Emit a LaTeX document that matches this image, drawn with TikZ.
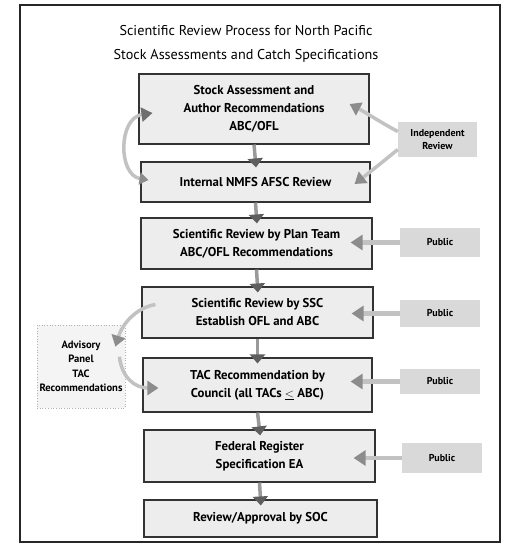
\documentclass[tikz,border=0pt]{standalone}
\usepackage{fontspec}
\setmainfont{PT Sans}
\usetikzlibrary{arrows.meta,calc}
\definecolor{boxfill}{HTML}{EDEDED}
\definecolor{sidefill}{HTML}{D9D9D9}
\definecolor{shaft}{HTML}{9A9A9A}
\definecolor{headc}{HTML}{5E5E5E}
\definecolor{lshaft}{HTML}{C2C2C2}
\definecolor{lhead}{HTML}{8C8C8C}
\tikzset{
  mainbox/.style={draw=black!80, line width=1.1pt, fill=boxfill, align=center,
    font=\fontsize{12.8}{18}\selectfont\bfseries, inner sep=0pt},
  sidebox/.style={fill=sidefill, align=center,
    font=\fontsize{10}{13}\selectfont\bfseries, inner sep=0pt},
  advbox/.style={fill=boxfill!60, draw=black!30, dotted, line width=0.7pt, align=center,
    font=\fontsize{10.6}{14.5}\selectfont\bfseries, inner sep=0pt},
  downarrow/.style={draw=shaft, line width=3.5pt,
    -{Triangle[width=15pt,length=9pt,color=headc]}, shorten >=-6pt},
  pubarrow/.style={draw=lshaft, line width=4.5pt,
    -{Triangle[width=15pt,length=12pt,color=lhead]}},
  curvearrow/.style={draw=lshaft, line width=3.5pt,
    -{Triangle[width=14pt,length=11pt,color=lhead]}},
}
\begin{document}
\begin{tikzpicture}[x=1pt,y=-1pt]
\useasboundingbox (0,0) rectangle (506,551);
\fill[white] (0,0) rectangle (506,551);
\draw[black!85, line width=1.2pt] (20,5) rectangle (500,542);
\node (title) at (246,44) [align=center, font=\fontsize{14.2}{24}\selectfont]
  {Scientific Review Process for North Pacific\\Stock Assessments and Catch Specifications};

\node[mainbox, minimum width=230pt, minimum height=70pt] (b1) at (254,109)
  {Stock Assessment and\\Author Recommendations\\ABC/OFL};
\node[mainbox, minimum width=229pt, minimum height=40pt] (b2) at (255.5,182)
  {Internal NMFS AFSC Review};
\node[mainbox, minimum width=231pt, minimum height=51pt] (b3) at (256.5,243.5)
  {Scientific Review by Plan Team\\ABC/OFL Recommendations};
\node[mainbox, minimum width=231pt, minimum height=51pt] (b4) at (257.5,312.5)
  {Scientific Review by SSC\\Establish OFL and ABC};
\node[mainbox, minimum width=229pt, minimum height=54pt] (b5) at (257.5,385)
  {TAC Recommendation by\\Council (all TACs $\underline{<}$ ABC)};
\node[mainbox, minimum width=231pt, minimum height=52pt] (b6) at (259.5,456)
  {Federal Register\\Specification EA};
\node[mainbox, minimum width=233pt, minimum height=37pt] (b7) at (260.5,518.5)
  {Review/Approval by SOC};

\node[sidebox, minimum width=79pt, minimum height=35pt] (ir) at (437.5,139.5)
  {Independent\\Review};
\node[sidebox, minimum width=80pt, minimum height=29pt] (p1) at (440,242.5) {Public};
\node[sidebox, minimum width=80pt, minimum height=27pt] (p2) at (440,313.5) {Public};
\node[sidebox, minimum width=80pt, minimum height=25pt] (p3) at (440,381.5) {Public};
\node[sidebox, minimum width=80pt, minimum height=30pt] (p4) at (442,458) {Public};
\node[advbox, minimum width=88pt, minimum height=83pt] (adv) at (81,366.5)
  {Advisory\\Panel\\TAC\\Recommendations};

% down arrows
\draw[downarrow] (b1.south) -- (b2.north);
\draw[downarrow] (b2.south) -- (b3.north);
\draw[downarrow] (b3.south) -- (b4.north);
\draw[downarrow] (b4.south) -- (b5.north);
\draw[downarrow] (b5.south) -- (b6.north);
\draw[downarrow] (b6.south) -- (b7.north);

% public arrows
\draw[pubarrow, shorten >=-22pt] (p1.west) -- (b3.east |- p1.west);
\draw[pubarrow, shorten >=-22pt] (p2.west) -- (b4.east |- p2.west);
\draw[pubarrow, shorten >=-22pt] (p3.west) -- (b5.east |- p3.west);
\draw[pubarrow, shorten >=-22pt] (p4.west) -- (b6.east |- p4.west);

% independent review arrows
\coordinate (irA) at ($(ir.west)+(0,-8)$);
\coordinate (irB) at ($(ir.west)+(0,10)$);
\coordinate (b1r) at ($(b1.east)+(-20,-5)$);
\coordinate (b2r) at ($(b2.east)+(-16,2)$);
\draw[curvearrow] (irA) .. controls (380,122) and (365,112) .. (b1r);
\draw[curvearrow] (irB) .. controls (385,160) and (370,172) .. (b2r);

% left loop
\coordinate (b1l) at ($(b1.west)+(14,4)$);
\coordinate (b2l) at ($(b2.west)+(8,-2)$);
\draw[curvearrow, {Triangle[width=12pt,length=9pt,color=lhead]}-{Triangle[width=14pt,length=11pt,color=headc!90]}]
  (b2l) .. controls (118,175) and (118,118) .. (b1l);

% advisory arrows
\coordinate (b4l) at ($(b4.west)+(14,-8)$);
\coordinate (advt) at ($(adv.north east)+(-10,22)$);
\coordinate (advb) at ($(adv.north east)+(-6,32)$);
\coordinate (b5l) at ($(b5.west)+(16,3)$);
\draw[curvearrow] (b4l) .. controls (135,308) and (122,325) .. (advt);
\draw[curvearrow] (advb) .. controls (122,378) and (135,388) .. (b5l);
\end{tikzpicture}
\end{document}
